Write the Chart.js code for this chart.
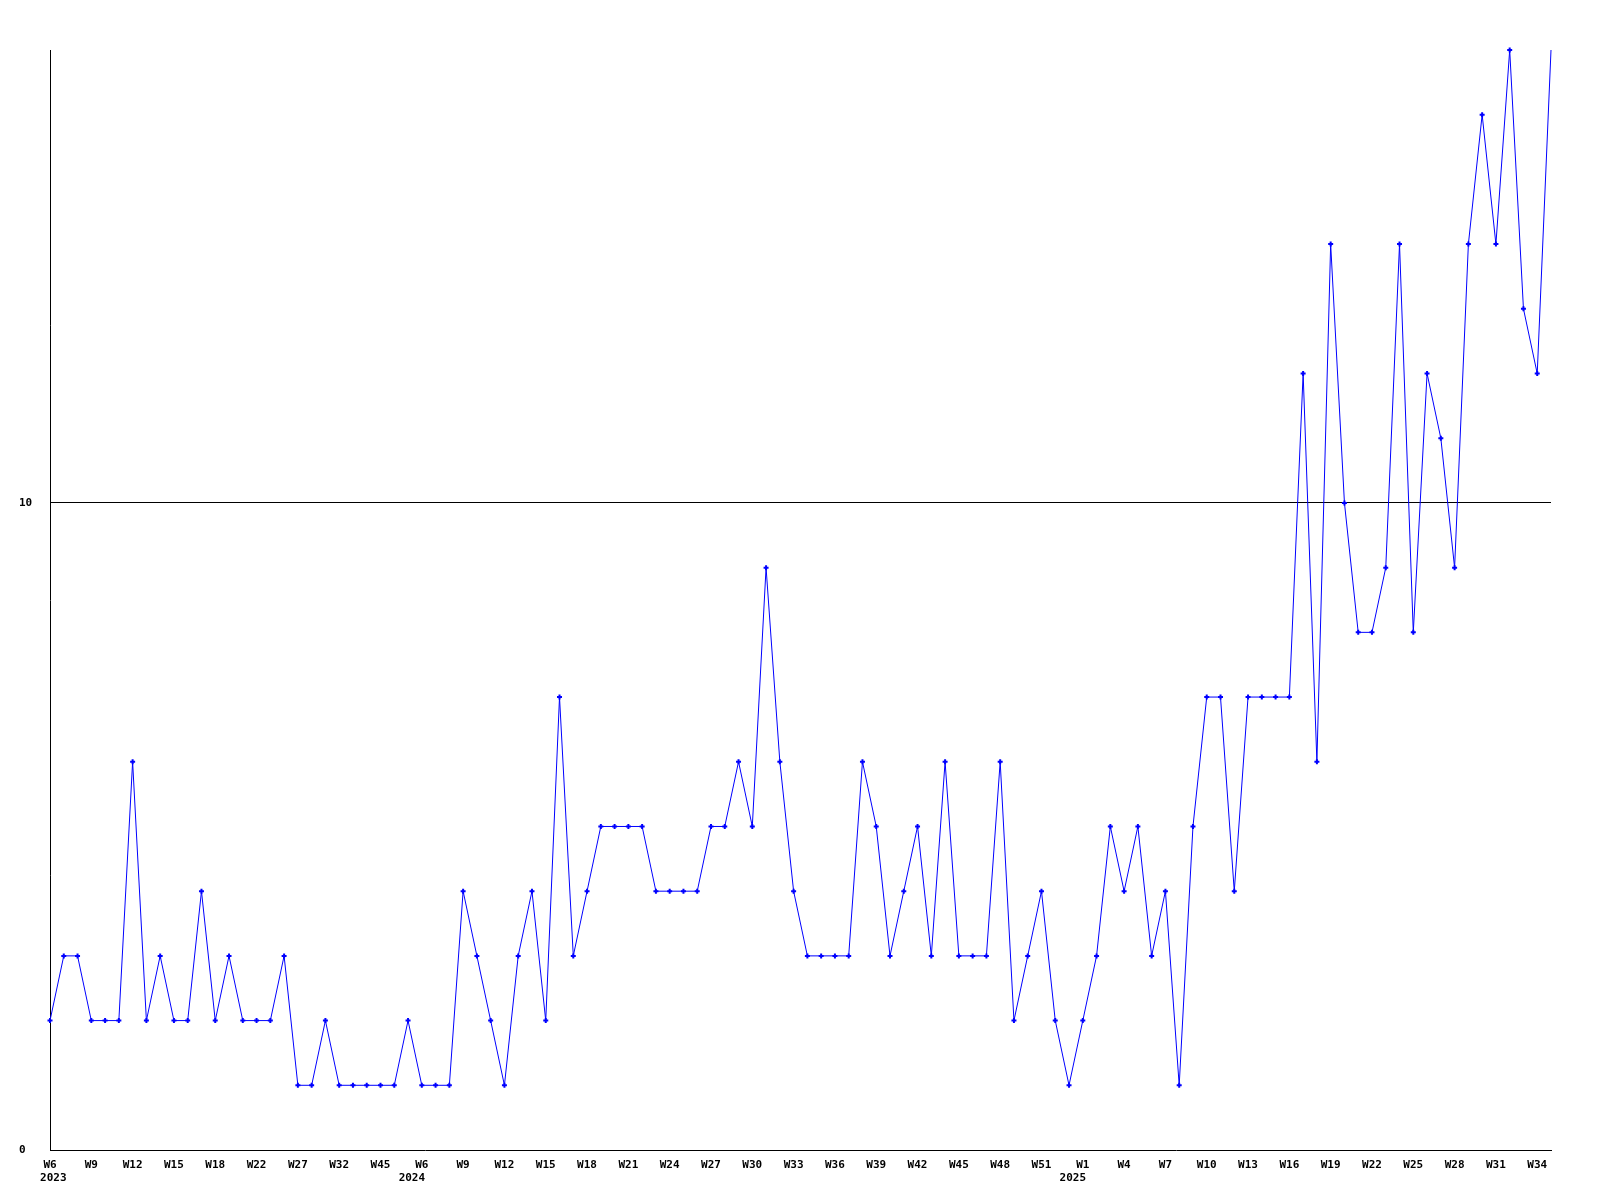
<!DOCTYPE html>
<html>
<head>
<meta charset="utf-8">
<title>Weekly count</title>
<script src="https://cdn.jsdelivr.net/npm/chart.js@4.4.1/dist/chart.umd.min.js"></script>
<style>
    html, body { margin: 0; padding: 0; background: #fff; }
    canvas { display: block; }
</style>
</head>
<body>
<canvas id="weekChart" width="1600" height="1200"></canvas>
<script>
// one entry per plotted week
const weekYears = [
    2023, 2023, 2023, 2023, 2023, 2023, 2023, 2023, 2023, 2023, 2023, 2023, 2023, 2023,
    2023, 2023, 2023, 2023, 2023, 2023, 2023, 2023, 2023, 2023, 2023, 2023, 2023,
    2024, 2024, 2024, 2024, 2024, 2024, 2024, 2024, 2024, 2024, 2024, 2024, 2024, 2024,
    2024, 2024, 2024, 2024, 2024, 2024, 2024, 2024, 2024, 2024, 2024, 2024, 2024, 2024,
    2024, 2024, 2024, 2024, 2024, 2024, 2024, 2024, 2024, 2024, 2024, 2024, 2024, 2024,
    2024, 2024, 2024, 2024, 2024, 2024,
    2025, 2025, 2025, 2025, 2025, 2025, 2025, 2025, 2025, 2025, 2025, 2025, 2025, 2025,
    2025, 2025, 2025, 2025, 2025, 2025, 2025, 2025, 2025, 2025, 2025, 2025, 2025, 2025,
    2025, 2025, 2025, 2025, 2025, 2025, 2025
];
const weekNumbers = [
    6, 7, 8, 9, 10, 11, 12, 13, 14, 15, 16, 17, 18, 20, 21, 22, 24, 26, 27, 29, 31, 32, 38, 42, 45, 48, 51,
    6, 7, 8, 9, 10, 11, 12, 13, 14, 15, 16, 17, 18, 19, 20, 21, 22, 23, 24, 25, 26, 27, 28, 29,
    30, 31, 32, 33, 34, 35, 36, 37, 38, 39, 40, 41, 42, 43, 44, 45, 46, 47, 48, 49, 50, 51, 52, 53,
    1, 2, 3, 4, 5, 6, 7, 8, 9, 10, 11, 12, 13, 14, 15, 16, 17, 18, 19, 20, 21, 22, 23, 24, 25,
    26, 27, 28, 29, 30, 31, 32, 33, 34, 35
];
const counts = [
    2, 3, 3, 2, 2, 2, 6, 2, 3, 2,
    2, 4, 2, 3, 2, 2, 2, 3, 1, 1,
    2, 1, 1, 1, 1, 1, 2, 1, 1, 1,
    4, 3, 2, 1, 3, 4, 2, 7, 3, 4,
    5, 5, 5, 5, 4, 4, 4, 4, 5, 5,
    6, 5, 9, 6, 4, 3, 3, 3, 3, 6,
    5, 3, 4, 5, 3, 6, 3, 3, 3, 6,
    2, 3, 4, 2, 1, 2, 3, 5, 4, 5,
    3, 4, 1, 5, 7, 7, 4, 7, 7, 7,
    7, 12, 6, 14, 10, 8, 8, 9, 14, 8,
    12, 11, 9, 14, 16, 14, 17, 13, 12, 17
];
const yTicks = [0, 10];
const yMax = 17;
const labelEvery = 3;

const tickFont = { family: "'DejaVu Sans Mono', monospace", size: 11, weight: "bold", lineHeight: 1.25 };

function weekLabel(index) {
    if (index % labelEvery !== 0) return "";
    const lines = ["W" + weekNumbers[index]];
    const year = weekYears[index];
    if (index === 0) {
        lines.push(" " + year);
    } else if (weekYears[index - labelEvery] !== year) {
        lines.push(year + "   ");
    }
    return lines;
}

function drawChart() {
    const ctx = document.getElementById("weekChart").getContext("2d");
    const lastIndex = counts.length - 1;

    new Chart(ctx, {
        type: "line",
        data: {
            labels: weekNumbers.map((w, i) => weekYears[i] + "-W" + w),
            datasets: [{
                data: counts,
                borderColor: "#0000ff",
                borderWidth: 1,
                tension: 0,
                fill: false,
                clip: false,
                pointStyle: "cross",
                pointRadius: c => c.dataIndex === lastIndex ? 0 : 2.5,
                pointBackgroundColor: "#0000ff",
                pointBorderColor: "#0000ff",
                pointBorderWidth: 2
            }]
        },
        options: {
            responsive: false,
            animation: false,
            devicePixelRatio: 1,
            layout: { padding: { left: 19, right: 49, top: 50, bottom: 0 } },
            plugins: {
                legend: { display: false },
                tooltip: { enabled: false }
            },
            scales: {
                x: {
                    type: "category",
                    grid: { display: false, drawTicks: false },
                    border: { display: true, color: "#000", width: 1 },
                    ticks: {
                        autoSkip: false,
                        maxRotation: 0,
                        minRotation: 0,
                        padding: 8,
                        color: "#000",
                        font: tickFont,
                        callback: (value, index) => weekLabel(index)
                    },
                    afterFit: scale => { scale.height = 50; }
                },
                y: {
                    min: 0,
                    max: yMax,
                    grid: {
                        drawTicks: false,
                        color: c => c.tick && c.tick.value === 10 ? "#000" : "rgba(0,0,0,0)"
                    },
                    border: { display: true, color: "#000", width: 1 },
                    ticks: {
                        crossAlign: "far",
                        padding: 0,
                        color: "#000",
                        font: tickFont
                    },
                    afterBuildTicks: scale => { scale.ticks = yTicks.map(v => ({ value: v })); },
                    afterFit: scale => { scale.width = 31; }
                }
            }
        }
    });
}

document.addEventListener("DOMContentLoaded", () => {
    drawChart();
});
</script>
</body>
</html>
